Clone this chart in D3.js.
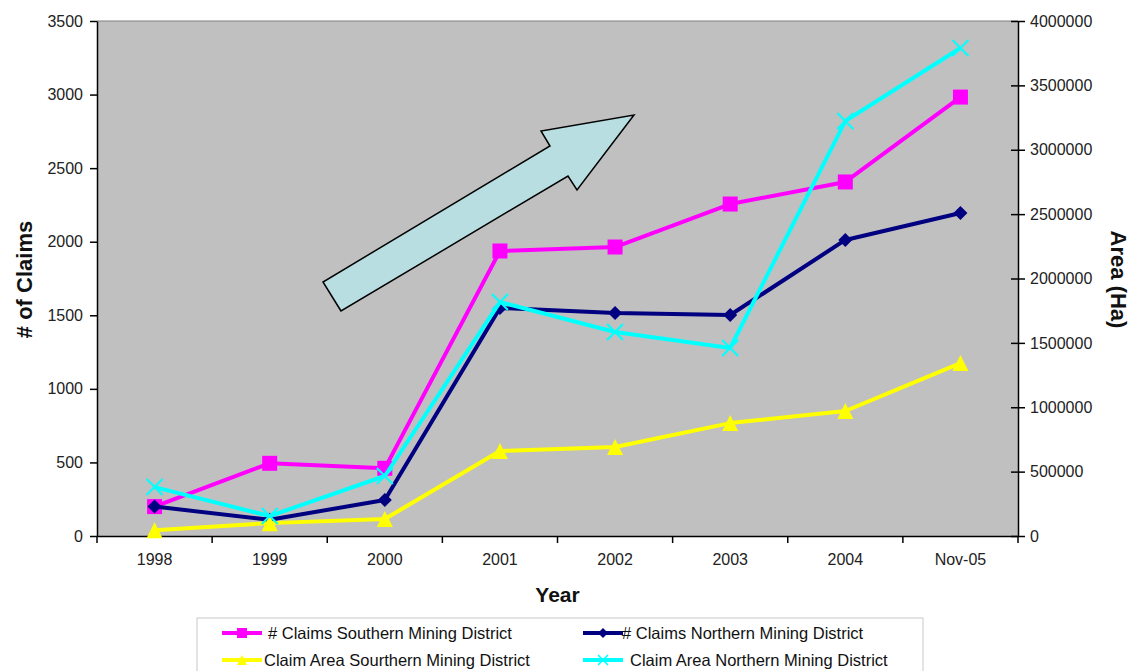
<!DOCTYPE html>
<html>
<head>
<meta charset="utf-8">
<script src="https://cdn.jsdelivr.net/npm/d3@7"></script>
<style>
body{margin:0;background:#fff;font-family:"Liberation Sans",Arial,sans-serif;}
</style>
</head>
<body>
<div id="chart"></div>
<script>
(function(){
var width = 1131,
	height = 671,
	margin = {top:21,right:113,bottom:135,left:97};

var years = ["1998","1999","2000","2001","2002","2003","2004","Nov-05"];
var claimsSouth = [200,494,460,1937,1964,2256,2406,2983];
var claimsNorth = [200,110,245,1550,1515,1502,2012,2195];
var areaSouth = [45000,100000,132000,660000,691000,877000,971000,1343000];
var areaNorth = [380000,155000,466000,1817000,1584000,1460000,3223000,3790000];
var leftTicks = [0,500,1000,1500,2000,2500,3000,3500];
var rightTicks = [0,500000,1000000,1500000,2000000,2500000,3000000,3500000,4000000];

var series = [
	{name:"# Claims Southern Mining District", values:claimsSouth, axis:"left", color:"#ff00ff", marker:"square"},
	{name:"# Claims Northern Mining District", values:claimsNorth, axis:"left", color:"#000080", marker:"diamond"},
	{name:"Claim Area Sourthern Mining District", values:areaSouth, axis:"right", color:"#ffff00", marker:"triangle"},
	{name:"Claim Area Northern Mining District", values:areaNorth, axis:"right", color:"#00ffff", marker:"cross"}
];

var w = width-margin.left-margin.right,
	h = height-margin.top-margin.bottom;

var X = d3.scaleBand().domain(years).range([0,w]);
var YL = d3.scaleLinear().domain([0,3500]).range([h,0]);
var YR = d3.scaleLinear().domain([0,4000000]).range([h,0]);

var svg = d3.select("#chart").append("svg")
	.attr("width",width)
	.attr("height",height);

var g = svg.append("g").attr("transform","translate("+margin.left+","+margin.top+")");

g.append("rect").attr("width",w).attr("height",h).attr("fill","#c0c0c0");
g.append("line").attr("x1",0).attr("x2",w).attr("y1",0).attr("y2",0).attr("stroke","#808080");

// arrow annotation (plot-relative)
var arrow = [[244,290],[226,261],[453,125],[444,110],[537,94],[480,169],[471,155]];
g.append("polygon")
	.attr("points",arrow.map(function(p){return p.join(",")}).join(" "))
	.attr("fill","#b8dee2").attr("stroke","#000").attr("stroke-width",1.5);

var tickFont = 16;

// axes
var xAxis = d3.axisBottom(X).tickSize(0).tickPadding(18);
var gx = g.append("g").attr("transform","translate(0,"+h+")").call(xAxis);
gx.select(".domain").attr("stroke","#000").attr("stroke-width",1.5);
gx.selectAll("text").attr("font-size",tickFont).attr("fill","#222").attr("font-family","Liberation Sans, Arial");
gx.selectAll(".sep").data(d3.range(years.length+1)).enter().append("line")
	.attr("x1",function(i){return i*X.step()}).attr("x2",function(i){return i*X.step()})
	.attr("y1",0).attr("y2",7).attr("stroke","#000").attr("stroke-width",1.5);

var gl = g.append("g").call(d3.axisLeft(YL).tickValues(leftTicks).tickSize(7).tickSizeOuter(0).tickPadding(7).tickFormat(d3.format("d")));
var gr = g.append("g").attr("transform","translate("+w+",0)")
	.call(d3.axisRight(YR).tickValues(rightTicks).tickSize(7).tickSizeOuter(0).tickPadding(6).tickFormat(d3.format("d")));
[gl,gr].forEach(function(a){
	a.select(".domain").attr("stroke","#000").attr("stroke-width",1.5);
	a.selectAll(".tick line").attr("stroke","#000").attr("stroke-width",1.5);
	a.selectAll(".tick text").attr("font-size",tickFont).attr("fill","#222").attr("font-family","Liberation Sans, Arial");
});
gl.selectAll(".tick line").attr("x1",-7).attr("x2",0);
gr.selectAll(".tick line").attr("x1",-7).attr("x2",7);
gr.selectAll(".tick text").attr("x",12);

// series
function markerPath(type,size){
	var s = size/2;
	if(type=="square") return "M"+(-s)+","+(-s)+"h"+size+"v"+size+"h"+(-size)+"Z";
	if(type=="diamond") return "M0,"+(-s)+"L"+s+",0L0,"+s+"L"+(-s)+",0Z";
	if(type=="triangle") return "M0,"+(-s)+"L"+s+","+s+"L"+(-s)+","+s+"Z";
	return "M"+(-s)+","+(-s)+"L"+s+","+s+"M"+s+","+(-s)+"L"+(-s)+","+s;
}
var msize = {square:15,diamond:14,triangle:16,cross:16};

series.forEach(function(s){
	var Y = s.axis=="left" ? YL : YR;
	var line = d3.line()
		.x(function(d,i){return X(years[i])+X.bandwidth()/2})
		.y(function(d){return Y(d)});
	g.append("path").datum(s.values).attr("d",line)
		.attr("fill","none").attr("stroke",s.color).attr("stroke-width",4).attr("stroke-linejoin","round");
	g.selectAll(null).data(s.values).enter().append("path")
		.attr("transform",function(d,i){return "translate("+(X(years[i])+X.bandwidth()/2)+","+Y(d)+")"})
		.attr("d",markerPath(s.marker,msize[s.marker]))
		.attr("fill",s.marker=="cross"?"none":s.color)
		.attr("stroke",s.color).attr("stroke-width",s.marker=="cross"?2:0);
});

// titles
svg.append("text").attr("transform","translate(32,"+(margin.top+h/2+1)+") rotate(-90)")
	.attr("text-anchor","middle").attr("font-size",22).attr("font-weight","bold").attr("fill","#111")
	.text("# of Claims");
svg.append("text").attr("transform","translate(1111,"+(margin.top+h/2+1)+") rotate(90)")
	.attr("text-anchor","middle").attr("font-size",22).attr("font-weight","bold").attr("fill","#111")
	.text("Area (Ha)");
svg.append("text").attr("x",margin.left+w/2).attr("y",602)
	.attr("text-anchor","middle").attr("font-size",21).attr("font-weight","bold").attr("fill","#111")
	.text("Year");

// legend
var leg = svg.append("g");
leg.append("rect").attr("x",197).attr("y",618).attr("width",726).attr("height",60)
	.attr("fill","#fff").attr("stroke","#c8c8c8").attr("stroke-width",1);
var legPos = [[222,633,268],[583,633,622],[222,660,264],[583,660,630]];
series.forEach(function(s,i){
	var p = legPos[i];
	leg.append("line").attr("x1",p[0]).attr("x2",p[0]+40).attr("y1",p[1]).attr("y2",p[1])
		.attr("stroke",s.color).attr("stroke-width",4);
	leg.append("path").attr("transform","translate("+(p[0]+20)+","+p[1]+")")
		.attr("d",markerPath(s.marker,s.marker=="cross"?10:10))
		.attr("fill",s.marker=="cross"?"none":s.color).attr("stroke",s.color).attr("stroke-width",s.marker=="cross"?1.5:0);
	leg.append("text").attr("x",p[2]).attr("y",p[1]+6).attr("font-size",16.5).attr("fill","#111")
		.text(s.name);
});
})();
</script>
</body>
</html>
